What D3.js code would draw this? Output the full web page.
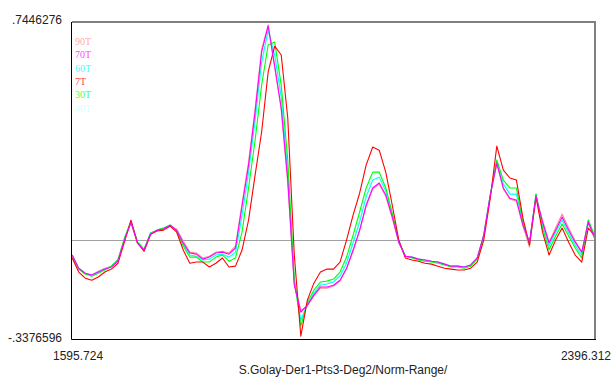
<!DOCTYPE html>
<html>
<head>
<meta charset="utf-8">
<script src="https://cdn.jsdelivr.net/npm/d3@7"></script>
<style>
  body { margin: 0; background: #fff; }
  svg { display: block; }
</style>
</head>
<body>
<div id="chart"></div>
<script>
// wavelength grid (nm), 10 nm step
const wavelengths = d3.range(1596, 2397, 10);

const xTickLabels = ["1595.724", "2396.312"];
const yTickLabels = [".7446276", "-.3376596"];
const xDomain = [1595.724, 2396.312];
const yDomain = [-0.3376596, 0.7446276];
const title = "S.Golay-Der1-Pts3-Deg2/Norm-Range/";

const seriesNames = ["90T", "70T", "60T", "7T", "30T", "40T"];

const s90T = [-0.051, -0.099, -0.116, -0.119, -0.106, -0.096, -0.089, -0.068, 0.003, 0.058,
  -0.010, -0.038, 0.020, 0.034, 0.038, 0.048, 0.038, -0.003, -0.041, -0.044,
  -0.061, -0.055, -0.041, -0.038, -0.044, -0.020, 0.125, 0.266, 0.447, 0.652,
  0.735, 0.590, 0.445, 0.195, -0.150, -0.240, -0.225, -0.190, -0.164, -0.164,
  -0.157, -0.140, -0.099, -0.038, 0.031, 0.116, 0.174, 0.191, 0.150, 0.075,
  -0.010, -0.055, -0.058, -0.065, -0.068, -0.072, -0.075, -0.082, -0.089, -0.089,
  -0.092, -0.085, -0.061, 0.017, 0.150, 0.260, 0.174, 0.140, 0.133, 0.048,
  -0.024, 0.147, 0.068, -0.007, 0.041, 0.089, 0.041, -0.003, -0.041, 0.058, 0.003];

const s70T = [-0.051, -0.096, -0.113, -0.119, -0.109, -0.099, -0.092, -0.072, 0.000, 0.061,
  -0.010, -0.034, 0.020, 0.034, 0.038, 0.051, 0.034, -0.010, -0.044, -0.048,
  -0.065, -0.058, -0.044, -0.041, -0.048, -0.027, 0.116, 0.256, 0.437, 0.642,
  0.731, 0.594, 0.451, 0.205, -0.154, -0.246, -0.222, -0.188, -0.160, -0.160,
  -0.154, -0.137, -0.096, -0.034, 0.034, 0.119, 0.178, 0.195, 0.154, 0.079,
  -0.007, -0.055, -0.058, -0.065, -0.068, -0.072, -0.075, -0.082, -0.089, -0.089,
  -0.092, -0.085, -0.061, 0.017, 0.154, 0.263, 0.178, 0.143, 0.137, 0.051,
  -0.007, 0.150, 0.061, -0.010, 0.034, 0.079, 0.034, -0.007, -0.041, 0.061, 0.007];

const s60T = [-0.051, -0.096, -0.113, -0.119, -0.109, -0.099, -0.089, -0.068, 0.003, 0.061,
  -0.007, -0.034, 0.024, 0.034, 0.041, 0.051, 0.034, -0.014, -0.051, -0.055,
  -0.068, -0.065, -0.051, -0.048, -0.058, -0.041, 0.085, 0.232, 0.410, 0.608,
  0.717, 0.631, 0.488, 0.232, -0.143, -0.273, -0.222, -0.181, -0.154, -0.150,
  -0.143, -0.123, -0.079, -0.010, 0.061, 0.147, 0.205, 0.215, 0.167, 0.085,
  -0.007, -0.055, -0.058, -0.065, -0.068, -0.072, -0.075, -0.082, -0.089, -0.089,
  -0.092, -0.085, -0.061, 0.017, 0.154, 0.270, 0.191, 0.157, 0.157, 0.058,
  -0.010, 0.157, 0.051, -0.020, 0.027, 0.068, 0.024, -0.017, -0.051, 0.068, 0.010];

const s7T = [-0.061, -0.109, -0.130, -0.137, -0.126, -0.109, -0.099, -0.079, -0.007, 0.068,
  -0.010, -0.038, 0.020, 0.031, 0.034, 0.048, 0.027, -0.034, -0.079, -0.075,
  -0.075, -0.092, -0.079, -0.061, -0.092, -0.089, -0.034, 0.068, 0.222, 0.369,
  0.574, 0.662, 0.632, 0.417, -0.051, -0.328, -0.205, -0.147, -0.109, -0.099,
  -0.099, -0.075, 0.000, 0.085, 0.160, 0.256, 0.318, 0.307, 0.232, 0.119,
  0.000, -0.061, -0.068, -0.072, -0.079, -0.082, -0.089, -0.096, -0.099, -0.102,
  -0.102, -0.096, -0.075, 0.000, 0.143, 0.321, 0.239, 0.212, 0.205, 0.075,
  -0.017, 0.147, 0.027, -0.051, 0.000, 0.041, -0.007, -0.051, -0.075, 0.041, 0.014];

const s30T = [-0.055, -0.099, -0.116, -0.123, -0.113, -0.102, -0.089, -0.068, 0.007, 0.065,
  -0.007, -0.031, 0.024, 0.034, 0.041, 0.051, 0.031, -0.020, -0.058, -0.058,
  -0.075, -0.075, -0.058, -0.051, -0.072, -0.061, 0.027, 0.178, 0.341, 0.529,
  0.666, 0.676, 0.529, 0.273, -0.130, -0.294, -0.212, -0.171, -0.143, -0.140,
  -0.133, -0.109, -0.058, 0.017, 0.096, 0.178, 0.232, 0.232, 0.178, 0.092,
  -0.003, -0.055, -0.061, -0.068, -0.072, -0.075, -0.079, -0.085, -0.092, -0.092,
  -0.096, -0.089, -0.065, 0.014, 0.154, 0.273, 0.205, 0.178, 0.178, 0.061,
  -0.014, 0.157, 0.041, -0.034, 0.014, 0.055, 0.014, -0.027, -0.061, 0.068, 0.014];

const s40T = [-0.051, -0.096, -0.113, -0.119, -0.109, -0.099, -0.089, -0.068, 0.003, 0.065,
  -0.007, -0.031, 0.024, 0.034, 0.041, 0.055, 0.034, -0.014, -0.051, -0.055,
  -0.068, -0.065, -0.051, -0.048, -0.061, -0.048, 0.068, 0.215, 0.390, 0.590,
  0.705, 0.645, 0.505, 0.250, -0.140, -0.270, -0.218, -0.178, -0.150, -0.147,
  -0.140, -0.119, -0.072, 0.000, 0.075, 0.164, 0.222, 0.232, 0.181, 0.092,
  -0.003, -0.055, -0.058, -0.065, -0.068, -0.072, -0.075, -0.082, -0.089, -0.089,
  -0.092, -0.085, -0.061, 0.017, 0.157, 0.276, 0.198, 0.164, 0.164, 0.061,
  -0.010, 0.160, 0.048, -0.024, 0.024, 0.072, 0.027, -0.020, -0.055, 0.072, 0.010];

const seriesValues = [s90T, s70T, s60T, s7T, s30T, s40T];
const colors = ["#ff8c8c", "#ff00ff", "#00ffff", "#ff0000", "#00ff00", "#c8ffff"];
// draw order: bottom first
const drawOrder = [0, 5, 2, 4, 3, 1];

const width = 612, height = 378;
const margin = { top: 22, right: 17, bottom: 39, left: 72 };

const svg = d3.select("#chart")
  .append("svg")
  .attr("width", width)
  .attr("height", height)
  .style("font-family", "'Liberation Sans', Arial, sans-serif");

const x = d3.scaleLinear()
  .domain(xDomain)
  .range([margin.left, width - margin.right]);

const y = d3.scaleLinear()
  .domain(yDomain)
  .range([height - margin.bottom, margin.top]);

// zero line
svg.append("line")
  .attr("x1", x(xDomain[0])).attr("x2", x(xDomain[1]))
  .attr("y1", Math.round(y(0)) + 0.5).attr("y2", Math.round(y(0)) + 0.5)
  .attr("stroke", "#a0a0a0")
  .attr("stroke-width", 1);

// series lines
const line = d3.line()
  .x((d, i) => x(wavelengths[i]))
  .y(d => y(d));

drawOrder.forEach(k => {
  svg.append("path")
    .datum(seriesValues[k])
    .attr("fill", "none")
    .attr("stroke", colors[k])
    .attr("stroke-width", 1.1)
    .attr("stroke-linejoin", "round")
    .attr("d", line);
});

// frame: top/right gray, left/bottom black
const x0 = x(xDomain[0]), x1 = x(xDomain[1]);
const yTop = y(yDomain[1]), yBot = y(yDomain[0]);
svg.append("line")
  .attr("x1", x0).attr("x2", x1 + 1).attr("y1", yTop).attr("y2", yTop)
  .attr("stroke", "#808080").attr("stroke-width", 2);
svg.append("line")
  .attr("x1", x1).attr("x2", x1).attr("y1", yTop).attr("y2", yBot)
  .attr("stroke", "#808080").attr("stroke-width", 2);
svg.append("line")
  .attr("x1", x0 - 0.5).attr("x2", x0 - 0.5).attr("y1", yTop).attr("y2", yBot + 0.5)
  .attr("stroke", "#000").attr("stroke-width", 1);
svg.append("line")
  .attr("x1", x0 - 0.5).attr("x2", x1 + 1).attr("y1", yBot + 0.5).attr("y2", yBot + 0.5)
  .attr("stroke", "#000").attr("stroke-width", 1);

// y end labels
svg.selectAll("text.ylab")
  .data(yDomain.slice().reverse())
  .enter()
  .append("text")
  .attr("class", "ylab")
  .attr("x", x0 - 10)
  .attr("y", (d, i) => y(d) + (i === 0 ? 2 : 3))
  .attr("text-anchor", "end")
  .attr("font-size", 12)
  .attr("fill", "#222")
  .text((d, i) => yTickLabels[i]);

// x end labels
svg.selectAll("text.xlab")
  .data(xDomain)
  .enter()
  .append("text")
  .attr("class", "xlab")
  .attr("x", (d, i) => i === 0 ? x(d) - 19 : width - 1)
  .attr("y", yBot + 21)
  .attr("text-anchor", (d, i) => i === 0 ? "start" : "end")
  .attr("font-size", 12)
  .attr("fill", "#222")
  .text((d, i) => xTickLabels[i]);

// title
svg.append("text")
  .attr("x", 343)
  .attr("y", height - 4)
  .attr("text-anchor", "middle")
  .attr("font-size", 12)
  .attr("fill", "#222")
  .text(title);

// legend
svg.selectAll("text.legend")
  .data(seriesNames)
  .enter()
  .append("text")
  .attr("class", "legend")
  .attr("x", x0 + 3)
  .attr("y", (d, i) => 45 + i * 13.3)
  .attr("font-family", "'Liberation Serif', 'Times New Roman', serif")
  .attr("font-size", 10)
  .attr("fill", (d, i) => colors[i])
  .attr("opacity", 0.75)
  .text(d => d);
</script>
</body>
</html>
